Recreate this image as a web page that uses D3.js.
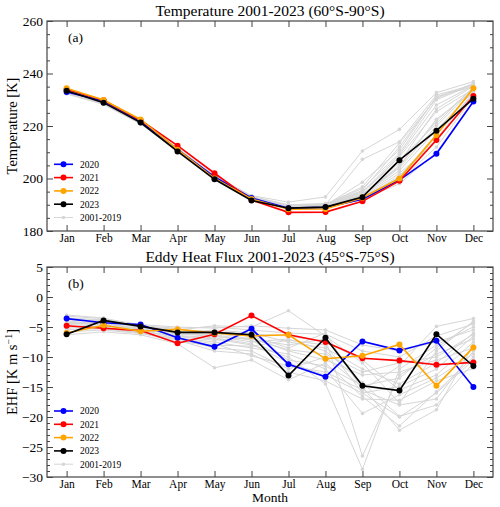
<!DOCTYPE html>
<html><head><meta charset="utf-8">
<script src="https://cdn.jsdelivr.net/npm/d3@7"></script>
<style>body{margin:0;background:#fff}svg{display:block}svg text{font-family:"Liberation Serif","Times New Roman",serif !important}</style>
</head><body><svg id="c" width="500" height="507"></svg>
<script>
const months = ["Jan","Feb","Mar","Apr","May","Jun","Jul","Aug","Sep","Oct","Nov","Dec"];
const years = ["2020","2021","2022","2023"];
const yearColors = ["#0000ff","#ff0000","#ffa500","#000000"];
const greyLabel = "2001-2019";

// Temperature 60S-90S [K]
const temp2020 = [233.0,229.5,221.8,211.0,200.6,192.6,188.7,189.0,192.1,199.4,209.4,229.3];
const temp2021 = [234.0,229.8,222.2,212.5,202.0,191.8,187.1,187.2,191.3,199.1,214.7,231.4];
const temp2022 = [234.4,229.9,222.5,211.0,200.0,192.2,188.3,188.4,192.7,200.0,216.6,234.4];
const temp2023 = [233.4,228.9,221.3,210.3,199.7,191.6,188.7,189.1,192.9,207.0,218.2,230.4];
const tempGrey = [
 [233.0,228.8,221.5,211.0,200.5,192.5,189.0,189.5,193.5,205.0,222.0,234.5],
 [232.5,228.5,221.0,210.8,201.0,193.5,191.0,193.0,210.5,218.7,232.7,236.9],
 [233.5,229.2,221.8,211.5,200.8,192.8,189.5,190.0,207.3,214.0,231.8,235.6],
 [232.8,228.6,221.2,210.5,200.2,192.2,188.8,189.2,192.5,201.0,215.0,233.0],
 [233.2,229.0,221.6,211.2,200.6,192.6,189.2,189.8,198.6,210.8,231.2,235.0],
 [232.6,228.4,221.0,210.6,200.3,192.4,189.0,189.3,193.0,199.0,212.0,231.0],
 [233.4,229.1,221.7,211.3,200.9,193.0,189.8,190.2,196.2,209.6,230.0,235.8],
 [232.9,228.7,221.3,210.9,200.4,192.3,188.6,188.9,192.0,198.0,210.0,229.5],
 [233.1,228.9,221.4,211.1,200.7,192.7,189.3,189.6,194.5,208.3,225.5,234.0],
 [232.7,228.5,221.1,210.7,200.2,192.1,188.9,189.1,193.8,204.5,222.6,233.5],
 [233.3,229.0,221.5,211.2,200.8,192.9,189.6,190.0,195.5,212.0,231.0,236.0],
 [232.4,228.3,220.9,210.4,200.0,192.0,188.7,188.8,192.2,200.5,217.0,232.0],
 [233.6,229.3,221.9,211.6,201.2,193.2,190.0,190.5,195.0,207.0,221.0,234.8],
 [232.2,228.2,220.8,210.3,199.9,192.2,189.1,189.4,193.3,203.0,218.5,233.2],
 [233.0,228.8,221.3,211.0,200.6,192.5,189.4,189.7,194.0,206.0,226.5,235.2],
 [232.6,228.6,221.2,210.8,200.4,192.4,188.9,189.2,192.8,202.0,214.0,232.5],
 [233.2,229.1,221.6,211.4,201.0,193.0,189.7,190.1,196.8,213.5,230.5,236.2],
 [232.9,228.7,221.4,211.0,200.5,192.6,189.2,189.5,193.6,204.0,220.0,234.2],
 [233.1,228.9,221.5,211.1,200.7,192.7,189.5,189.9,194.8,209.0,228.0,235.4]
];

// Eddy heat flux 45S-75S [K m s^-1]
const ehf2020 = [-3.6,-4.3,-4.6,-6.8,-8.3,-5.3,-11.2,-13.3,-7.4,-8.9,-7.3,-15.0];
const ehf2021 = [-4.8,-5.2,-5.6,-7.7,-6.2,-3.1,-6.3,-7.5,-10.2,-10.6,-11.3,-10.9];
const ehf2022 = [-6.0,-4.7,-5.7,-5.4,-6.0,-6.5,-6.3,-10.3,-9.8,-7.9,-14.8,-8.4];
const ehf2023 = [-6.2,-3.9,-4.9,-5.9,-5.9,-6.3,-13.1,-6.8,-14.8,-15.6,-6.2,-11.5];
const ehfGrey = [
 [-4.5,-4.2,-5.5,-6.0,-5.5,-6.0,-7.5,-8.5,-12.0,-14.5,-11.0,-6.0],
 [-5.0,-4.5,-5.8,-6.5,-7.0,-8.0,-10.0,-14.5,-28.7,-12.0,-8.0,-5.0],
 [-3.0,-3.5,-5.0,-5.5,-4.8,-5.0,-2.3,-6.5,-11.0,-17.7,-9.0,-4.0],
 [-5.5,-5.0,-6.0,-7.0,-8.5,-9.0,-12.0,-10.0,-15.0,-22.2,-18.8,-8.0],
 [-4.0,-4.5,-5.2,-6.2,-6.0,-7.0,-8.0,-7.0,-26.5,-13.0,-9.5,-7.0],
 [-6.3,-5.8,-6.3,-7.8,-11.8,-10.5,-13.8,-11.0,-16.6,-21.5,-15.8,-10.0],
 [-3.5,-3.8,-4.8,-5.2,-5.0,-5.5,-6.0,-6.2,-9.0,-10.0,-6.5,-4.5],
 [-4.8,-5.2,-5.6,-6.8,-7.5,-8.5,-9.5,-12.0,-19.4,-16.3,-13.5,-9.5],
 [-5.2,-4.8,-5.4,-6.0,-6.5,-7.5,-7.0,-9.0,-14.3,-19.9,-18.0,-11.0],
 [-3.8,-4.0,-5.0,-5.8,-6.0,-6.5,-8.5,-6.0,-15.5,-11.5,-4.9,-3.6],
 [-4.2,-4.6,-5.3,-6.4,-6.8,-7.8,-11.0,-13.0,-16.0,-14.9,-12.0,-6.5],
 [-5.8,-5.5,-6.1,-7.2,-9.0,-9.5,-12.5,-14.0,-17.0,-17.2,-14.0,-11.9],
 [-3.2,-3.6,-4.6,-5.0,-5.2,-4.8,-5.2,-5.5,-8.0,-9.0,-7.5,-5.5],
 [-4.6,-4.3,-5.6,-6.6,-7.2,-6.8,-9.0,-10.5,-13.0,-12.5,-10.5,-8.5],
 [-5.0,-5.0,-5.9,-7.5,-8.0,-8.2,-7.2,-8.0,-16.0,-20.0,-16.0,-10.5],
 [-4.4,-4.1,-5.1,-5.9,-6.3,-7.2,-10.5,-11.5,-14.8,-13.5,-8.5,-4.2],
 [-3.7,-3.9,-4.9,-5.4,-5.8,-6.2,-6.5,-7.5,-10.5,-15.5,-13.0,-7.5],
 [-5.4,-5.3,-6.0,-6.9,-7.8,-9.8,-11.5,-12.5,-15.5,-18.0,-17.0,-9.0],
 [-4.3,-4.7,-5.4,-6.1,-6.6,-7.0,-8.8,-9.5,-12.5,-11.0,-10.0,-6.2]
];

const tempTicks = [180,200,220,240,260];
const ehfTicks = [5,0,-5,-10,-15,-20,-25,-30];

const svg = d3.select("#c");
const L = 47, R = 493;
const x = d3.scaleLinear().domain([0.47,12.53]).range([L,R]);
const frameCol = "#444";
const greyCol = "#d6d6d6";

function panel(cfg){
  const y = d3.scaleLinear().domain(cfg.domain).range([cfg.bottom,cfg.top]);
  const g = svg.append("g");
  const line = d3.line().x((d,i)=>x(i+1)).y(d=>y(d));
  cfg.grey.forEach(s=>{
    g.append("path").attr("d",line(s)).attr("fill","none").attr("stroke",greyCol).attr("stroke-width",1);
    g.selectAll(null).data(s).join("circle").attr("cx",(d,i)=>x(i+1)).attr("cy",d=>y(d)).attr("r",1.8).attr("fill",greyCol);
  });
  cfg.series.forEach((s,k)=>{
    g.append("path").attr("d",line(s)).attr("fill","none").attr("stroke",yearColors[k]).attr("stroke-width",1.6);
    g.selectAll(null).data(s).join("circle").attr("cx",(d,i)=>x(i+1)).attr("cy",d=>y(d)).attr("r",3).attr("fill",yearColors[k]);
  });
  g.append("rect").attr("x",L).attr("y",cfg.top).attr("width",R-L).attr("height",cfg.bottom-cfg.top)
    .attr("fill","none").attr("stroke",frameCol).attr("stroke-width",1.2);
  const fmt = d=>d3.format("d")(d).replace("-","\u2212");
  const yl = g.append("g").attr("transform",`translate(${L},0)`)
    .call(d3.axisLeft(y).tickValues(cfg.ticks).tickSize(-6).tickPadding(4).tickFormat(fmt));
  const ylm = g.append("g").attr("transform",`translate(${L},0)`)
    .call(d3.axisLeft(y).tickValues(cfg.minor).tickSize(-3).tickFormat(""));
  const yr = g.append("g").attr("transform",`translate(${R},0)`)
    .call(d3.axisRight(y).tickValues(cfg.ticks).tickSize(-6).tickFormat(""));
  const yrm = g.append("g").attr("transform",`translate(${R},0)`)
    .call(d3.axisRight(y).tickValues(cfg.minor).tickSize(-3).tickFormat(""));
  const xb = g.append("g").attr("transform",`translate(0,${cfg.bottom})`)
    .call(d3.axisBottom(x).tickValues(d3.range(1,13)).tickSize(-6).tickPadding(3).tickFormat(d=>months[d-1]));
  const xt = g.append("g").attr("transform",`translate(0,${cfg.top})`)
    .call(d3.axisTop(x).tickValues(d3.range(1,13)).tickSize(-6).tickFormat(""));
  [yl,ylm,yr,yrm,xb,xt].forEach(a=>{
    a.attr("font-family",null).attr("font-size",null);
    a.select(".domain").remove();
    a.selectAll(".tick line").attr("stroke",frameCol);
    a.selectAll("text").attr("fill","#000");
  });
  yl.selectAll("text").attr("font-size",13.5);
  xb.selectAll("text").attr("font-size",11.5);
  svg.append("text").attr("x",(L+R)/2).attr("y",cfg.top-5).attr("text-anchor","middle")
    .attr("font-size",15.5).text(cfg.title);
  svg.append("text").attr("x",68).attr("y",cfg.top+21).attr("font-size",13.5).text(cfg.tag);
  const yt = svg.append("text").attr("transform",`translate(17,${(cfg.top+cfg.bottom)/2}) rotate(-90)`)
    .attr("text-anchor","middle").attr("font-size",14.5);
  cfg.ylab(yt);
  const lg = svg.append("g");
  const labels = years.concat([greyLabel]);
  const cols = yearColors.concat([greyCol]);
  labels.forEach((lab,i)=>{
    const ly = cfg.legY + i*13.3;
    lg.append("line").attr("x1",54).attr("x2",73).attr("y1",ly).attr("y2",ly)
      .attr("stroke",cols[i]).attr("stroke-width",i<4?1.6:1);
    lg.append("circle").attr("cx",63.5).attr("cy",ly).attr("r",i<4?3:1.8).attr("fill",cols[i]);
    lg.append("text").attr("x",80).attr("y",ly+3.3).attr("font-size",9.5).text(lab);
  });
}

panel({top:21,bottom:231,domain:[180,260],ticks:tempTicks,minor:d3.range(180,261,5).filter(v=>v%20),
  grey:tempGrey,series:[temp2020,temp2021,temp2022,temp2023],
  title:"Temperature 2001-2023 (60°S-90°S)",tag:"(a)",legY:164.3,
  ylab:t=>t.text("Temperature [K]")});
panel({top:267,bottom:477,domain:[-30,5],ticks:ehfTicks,minor:d3.range(-30,6,1).filter(v=>v%5),
  grey:ehfGrey,series:[ehf2020,ehf2021,ehf2022,ehf2023],
  title:"Eddy Heat Flux 2001-2023 (45°S-75°S)",tag:"(b)",legY:411,
  ylab:t=>{t.append("tspan").text("EHF [K m s");t.append("tspan").attr("dy",-5).attr("font-size",10).text("\u22121");t.append("tspan").attr("dy",5).text("]");}});
svg.append("text").attr("x",(L+R)/2).attr("y",502).attr("text-anchor","middle").attr("font-size",13.5).text("Month");
</script></body></html>
